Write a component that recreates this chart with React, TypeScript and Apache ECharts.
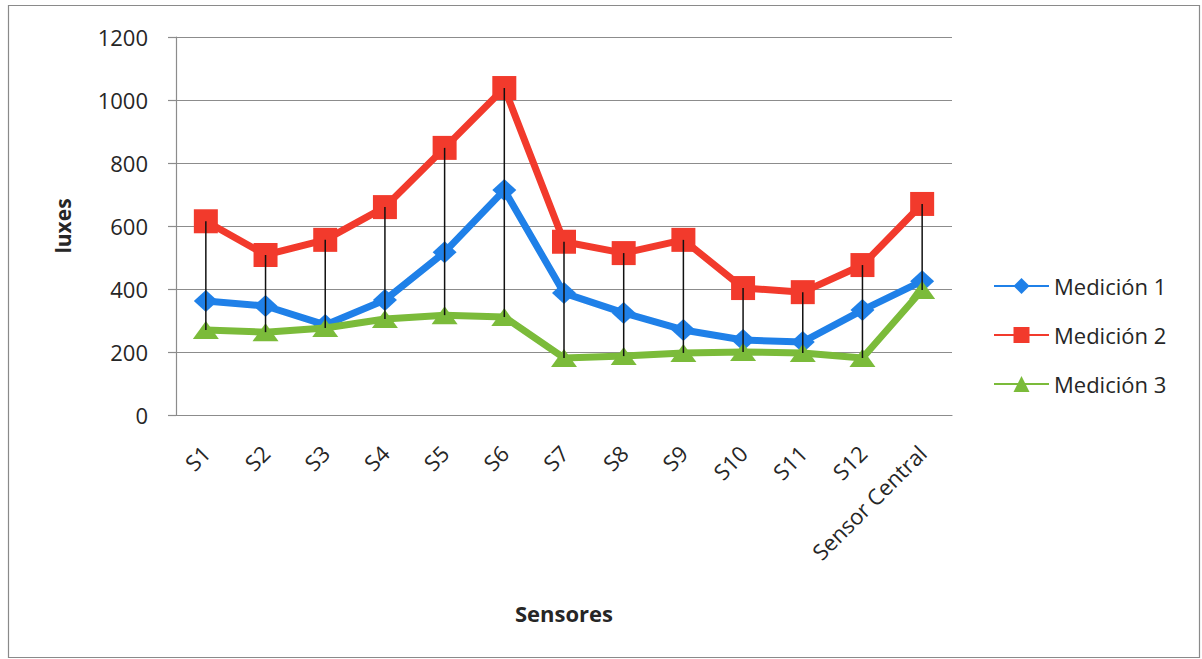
import React, { useEffect, useRef } from "react";
import * as echarts from "echarts";

const categories = ["S1", "S2", "S3", "S4", "S5", "S6", "S7", "S8", "S9", "S10", "S11", "S12", "Sensor Central"];
const medicion1 = [362, 346, 286, 365, 517, 714, 387, 324, 270, 238, 232, 333, 425];
const medicion2 = [615, 508, 556, 660, 848, 1038, 550, 514, 556, 403, 390, 476, 670];
const medicion3 = [270, 263, 276, 305, 317, 311, 181, 187, 197, 200, 197, 181, 397];
const yTicks = [0, 200, 400, 600, 800, 1000, 1200];

const FONT = "'Open Sans', Lato, sans-serif";
const TXT = "#262626";

export default function App() {
  const ref = useRef<HTMLDivElement>(null);
  useEffect(() => {
    if (!ref.current) return;
    const chart = echarts.init(ref.current, null, { renderer: "svg" });
    const hiLo = categories.map((_, i) => [
      i,
      Math.max(medicion1[i], medicion2[i], medicion3[i]),
      Math.min(medicion1[i], medicion2[i], medicion3[i]),
    ]);
    chart.setOption({
      animation: false,
      backgroundColor: "#ffffff",
      textStyle: { fontFamily: FONT, color: TXT },
      graphic: [
        {
          type: "rect",
          shape: { x: 8.5, y: 5.5, width: 1191, height: 652 },
          style: { fill: "none", stroke: "#8a8a8a", lineWidth: 1.2 },
          silent: true,
        },
      ],
      grid: { left: 176, top: 37, right: 250, bottom: 244, containLabel: false },
      legend: {
        orient: "vertical",
        left: 988,
        top: 270,
        itemWidth: 55,
        itemHeight: 20,
        itemGap: 27,
        textStyle: { fontSize: 22, color: TXT, fontFamily: FONT },
        data: ["Medición 1", "Medición 2", "Medición 3"],
      },
      xAxis: {
        type: "category",
        data: categories,
        boundaryGap: true,
        name: "Sensores",
        nameLocation: "middle",
        nameGap: 187,
        nameTextStyle: { fontSize: 22, fontWeight: "bold", color: TXT, fontFamily: FONT },
        axisLine: { show: true, lineStyle: { color: "#8c8c8c", width: 1.2 } },
        axisTick: { show: false },
        axisLabel: { rotate: 45, fontSize: 22, color: TXT, margin: 34, interval: 0, fontFamily: FONT },
        splitLine: { show: false },
      },
      yAxis: {
        type: "value",
        min: yTicks[0],
        max: yTicks[yTicks.length - 1],
        interval: 200,
        name: "luxes",
        nameLocation: "middle",
        nameGap: 103,
        nameTextStyle: { fontSize: 21, fontWeight: "bold", color: TXT, fontFamily: FONT },
        axisLine: { show: true, lineStyle: { color: "#8c8c8c", width: 1.2 } },
        axisTick: { show: true, length: 8, lineStyle: { color: "#8c8c8c", width: 1.2 } },
        axisLabel: {
          fontSize: 22,
          color: TXT,
          margin: 28,
          fontFamily: FONT,
          formatter: (v: number) => String(v),
        },
        splitLine: { show: true, lineStyle: { color: "#8c8c8c", width: 1.2 } },
      },
      series: [
        {
          name: "Medición 1",
          type: "line",
          data: medicion1,
          symbol: "diamond",
          symbolSize: [24, 22],
          lineStyle: { color: "#1f80e8", width: 7 },
          itemStyle: { color: "#1f80e8" },
          z: 3,
        },
        {
          name: "Medición 2",
          type: "line",
          data: medicion2,
          symbol: "rect",
          symbolSize: 24,
          lineStyle: { color: "#f23a2c", width: 7 },
          itemStyle: { color: "#f23a2c" },
          z: 2,
        },
        {
          name: "Medición 3",
          type: "line",
          data: medicion3,
          symbol: "triangle",
          symbolSize: [26, 18],
          lineStyle: { color: "#7bbb3a", width: 7 },
          itemStyle: { color: "#7bbb3a" },
          z: 4,
        },
        {
          name: "hilo",
          type: "custom",
          data: hiLo,
          z: 10,
          silent: true,
          renderItem: (params: any, api: any) => {
            const x = api.value(0);
            const hi = api.coord([x, api.value(1)]);
            const lo = api.coord([x, api.value(2)]);
            return {
              type: "line",
              shape: { x1: hi[0], y1: hi[1], x2: lo[0], y2: lo[1] },
              style: { stroke: "#111111", lineWidth: 1.5 },
            };
          },
        },
      ],
    });
    return () => chart.dispose();
  }, []);
  return (
    <div
      ref={ref}
      style={{ position: "absolute", left: 0, top: 0, width: 1202, height: 659 }}
    />
  );
}
